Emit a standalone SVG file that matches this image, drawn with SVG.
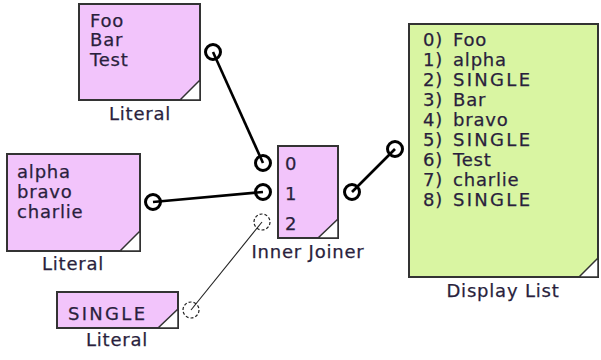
<svg xmlns="http://www.w3.org/2000/svg" width="601" height="360" viewBox="0 0 601 360">
<style>
text{font-family:"DejaVu Sans","Liberation Sans",sans-serif;font-size:18px;letter-spacing:0.8px;fill:#2a1f3d;stroke:#2a1f3d;stroke-width:0.25}
.lbl{text-anchor:middle}
.pink{fill:#f2c4fb;stroke:#333;stroke-width:2}
.green{fill:#d9f5a2;stroke:#333;stroke-width:2}
.corner{fill:#fff;stroke:#333;stroke-width:1.5}
.port{fill:#fff;stroke:#000;stroke-width:3}
.dport{fill:#fff;stroke:#222;stroke-width:1.2;stroke-dasharray:3 2}
.wire{stroke:#000;stroke-width:2.6;fill:none}
.thin{stroke:#222;stroke-width:1.1;fill:none}
.s{letter-spacing:2.3px}
</style>
<rect width="601" height="360" fill="#fff"/>
<g id="literal1">
<rect class="pink" x="79" y="4" width="121" height="96"/>
<polygon class="corner" points="180,100 200,80 200,100"/>
<text x="90" y="27">Foo</text>
<text x="90" y="46">Bar</text>
<text x="90" y="66">Test</text>
<text class="lbl" x="140" y="120">Literal</text>
<circle class="port" cx="213" cy="52" r="7.5"/>
</g>
<g id="literal2">
<rect class="pink" x="7" y="154" width="133" height="97"/>
<polygon class="corner" points="120,251 140,231 140,251"/>
<text x="17" y="178">alpha</text>
<text x="17" y="198">bravo</text>
<text x="17" y="218">charlie</text>
<text class="lbl" x="73" y="270">Literal</text>
<circle class="port" cx="153" cy="202" r="7.5"/>
</g>
<g id="literal3">
<rect class="pink" x="57" y="292" width="121" height="36"/>
<polygon class="corner" points="158,328 178,309 178,328"/>
<text x="68" y="320" class="s">SINGLE</text>
<text class="lbl" x="117" y="346">Literal</text>
<circle class="dport" cx="191" cy="310" r="8"/>
</g>
<g id="innerJoiner">
<rect class="pink" x="278" y="146" width="60" height="92"/>
<polygon class="corner" points="318,238 338,219 338,238"/>
<text x="285" y="170">0</text>
<text x="285" y="200">1</text>
<text x="285" y="230">2</text>
<text class="lbl" x="308" y="258">Inner Joiner</text>
<circle class="port" cx="263" cy="163" r="7.5"/>
<circle class="port" cx="263" cy="192" r="7.5"/>
<circle class="dport" cx="262" cy="222" r="8"/>
<circle class="port" cx="352" cy="192" r="7.5"/>
</g>
<g id="displayList">
<rect class="green" x="409" y="24" width="189" height="253"/>
<polygon class="corner" points="579,277 598,258 598,277"/>
<text y="46"><tspan x="423">0) </tspan><tspan x="453">Foo</tspan></text>
<text y="66"><tspan x="423">1) </tspan><tspan x="453">alpha</tspan></text>
<text y="86"><tspan x="423">2) </tspan><tspan x="453" class="s">SINGLE</tspan></text>
<text y="106"><tspan x="423">3) </tspan><tspan x="453">Bar</tspan></text>
<text y="126"><tspan x="423">4) </tspan><tspan x="453">bravo</tspan></text>
<text y="146"><tspan x="423">5) </tspan><tspan x="453" class="s">SINGLE</tspan></text>
<text y="166"><tspan x="423">6) </tspan><tspan x="453">Test</tspan></text>
<text y="186"><tspan x="423">7) </tspan><tspan x="453">charlie</tspan></text>
<text y="206"><tspan x="423">8) </tspan><tspan x="453" class="s">SINGLE</tspan></text>
<text class="lbl" x="503" y="297">Display List</text>
<circle class="port" cx="395" cy="149" r="7.5"/>
</g>
<g id="connectors">
<line class="wire" x1="213" y1="52" x2="263" y2="163"/>
<line class="wire" x1="153" y1="202" x2="263" y2="192"/>
<line class="wire" x1="352" y1="192" x2="395" y2="149"/>
<line class="thin" x1="191" y1="310" x2="262" y2="222"/>
</g>
</svg>
